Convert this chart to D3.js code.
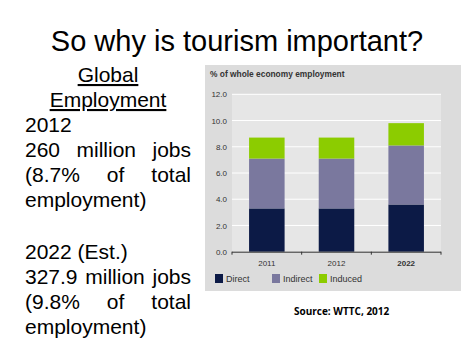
<!DOCTYPE html>
<html><head><meta charset="utf-8">
<script src="https://cdn.jsdelivr.net/npm/d3@7"></script>
<style>body{margin:0;background:#fff}svg{display:block}</style>
</head><body><svg id="c" width="474" height="355"></svg>
<script>
const years = ["2011", "2012", "2022"];
const direct = [3.3, 3.3, 3.6];
const indirect = [3.8, 3.8, 4.5];
const induced = [1.6, 1.6, 1.7];
const seriesNames = ["Direct", "Indirect", "Induced"];
const yTicks = [0, 2, 4, 6, 8, 10, 12];

const svg = d3.select("#c");
const sans = "'Liberation Sans', Arial, sans-serif";

// Title
svg.append("text").attr("x", 237).attr("y", 51).attr("text-anchor", "middle")
  .attr("font-family", sans).attr("font-size", 29).attr("fill", "#000")
  .text("So why is tourism important?");

// Left text block
const leftX = 25, rightX = 191, fs = 21;
function centered(t, y, underline) {
  const el = svg.append("text").attr("x", 108).attr("y", y).attr("text-anchor", "middle")
    .attr("font-family", sans).attr("font-size", fs).text(t);
  if (underline) el.attr("text-decoration", "underline");
}
function left(t, y) {
  svg.append("text").attr("x", leftX).attr("y", y).attr("font-family", sans).attr("font-size", fs).text(t);
}
function justified(words, y) {
  const els = words.map(w => svg.append("text").attr("y", y).attr("font-family", sans).attr("font-size", fs).text(w));
  const widths = els.map(e => e.node().getComputedTextLength());
  const total = d3.sum(widths);
  const gap = (rightX - leftX - total) / (words.length - 1);
  let x = leftX;
  els.forEach((e, i) => { e.attr("x", x); x += widths[i] + gap; });
}
centered("Global", 82, true);
centered("Employment", 107, true);
left("2012", 132);
justified(["260", "million", "jobs"], 157);
justified(["(8.7%", "of", "total"], 182);
left("employment)", 207);
left("2022 (Est.)", 259);
justified(["327.9", "million", "jobs"], 284);
justified(["(9.8%", "of", "total"], 309);
left("employment)", 334);

// Chart panel
svg.append("rect").attr("x", 205).attr("y", 65).attr("width", 256).attr("height", 226).attr("fill", "#dcdcdc");
svg.append("text").attr("x", 210).attr("y", 77).attr("font-family", sans).attr("font-size", 8.4)
  .attr("font-weight", "bold").attr("fill", "#333").text("% of whole economy employment");

const x = d3.scaleBand().domain(years).range([232, 441]).paddingInner(0.49).paddingOuter(0.245);
const y = d3.scaleLinear().domain([0, 12]).range([251.7, 94.3]);

svg.append("rect").attr("x", 232).attr("y", y(12)).attr("width", 209).attr("height", y(0) - y(12)).attr("fill", "#e6e6e6");
svg.selectAll(".grid").data(yTicks.filter(d => d > 0)).enter().append("line")
  .attr("x1", 232).attr("x2", 441).attr("y1", d => y(d)).attr("y2", d => y(d))
  .attr("stroke", "#fff").attr("stroke-width", 1);

const yAxis = svg.append("g").attr("transform", "translate(232,0)")
  .call(d3.axisLeft(y).tickValues(yTicks).tickFormat(d3.format(".1f")).tickSize(0).tickPadding(5));
yAxis.select(".domain").remove();
yAxis.selectAll("text").attr("font-family", sans).attr("font-size", 8).attr("fill", "#333");

const data = years.map((yr, i) => ({year: yr, Direct: direct[i], Indirect: indirect[i], Induced: induced[i]}));
const stack = d3.stack().keys(seriesNames)(data);
const colors = {Direct: "#0c1a46", Indirect: "#7a789e", Induced: "#8ccc00"};
svg.selectAll(".layer").data(stack).enter().append("g").attr("fill", d => colors[d.key])
  .selectAll("rect").data(d => d).enter().append("rect")
  .attr("x", d => x(d.data.year)).attr("width", x.bandwidth())
  .attr("y", d => y(d[1])).attr("height", d => y(d[0]) - y(d[1]));

// x axis
const xg = svg.append("g").attr("transform", `translate(0,${y(0)})`);
xg.append("line").attr("x1", 232).attr("x2", 441).attr("y1", 0.5).attr("y2", 0.5).attr("stroke", "#333");
const step = x.step();
const bounds = [232, 232 + step, 232 + 2 * step, 441];
xg.selectAll(".tk").data(bounds).enter().append("line")
  .attr("x1", d => d).attr("x2", d => d).attr("y1", 0).attr("y2", 3).attr("stroke", "#333");
xg.selectAll(".lbl").data(years).enter().append("text")
  .attr("x", d => x(d) + x.bandwidth() / 2).attr("y", 14).attr("text-anchor", "middle")
  .attr("font-family", sans).attr("font-size", 8).attr("fill", "#333")
  .attr("font-weight", d => d === "2022" ? "bold" : "normal").text(d => d);

// legend
const legX = [215, 272, 319];
const lg = svg.selectAll(".leg").data(seriesNames).enter().append("g")
  .attr("transform", (d, i) => `translate(${legX[i]},274)`);
lg.append("rect").attr("width", 8).attr("height", 9).attr("fill", d => colors[d]);
lg.append("text").attr("x", 11).attr("y", 8).attr("font-family", sans).attr("font-size", 9).attr("fill", "#333").text(d => d);

svg.append("text").attr("x", 294).attr("y", 315).attr("font-family", "'Open Sans', sans-serif").attr("font-size", 10)
  .attr("font-weight", "bold").attr("fill", "#000").text("Source: WTTC, 2012");
</script></body></html>
